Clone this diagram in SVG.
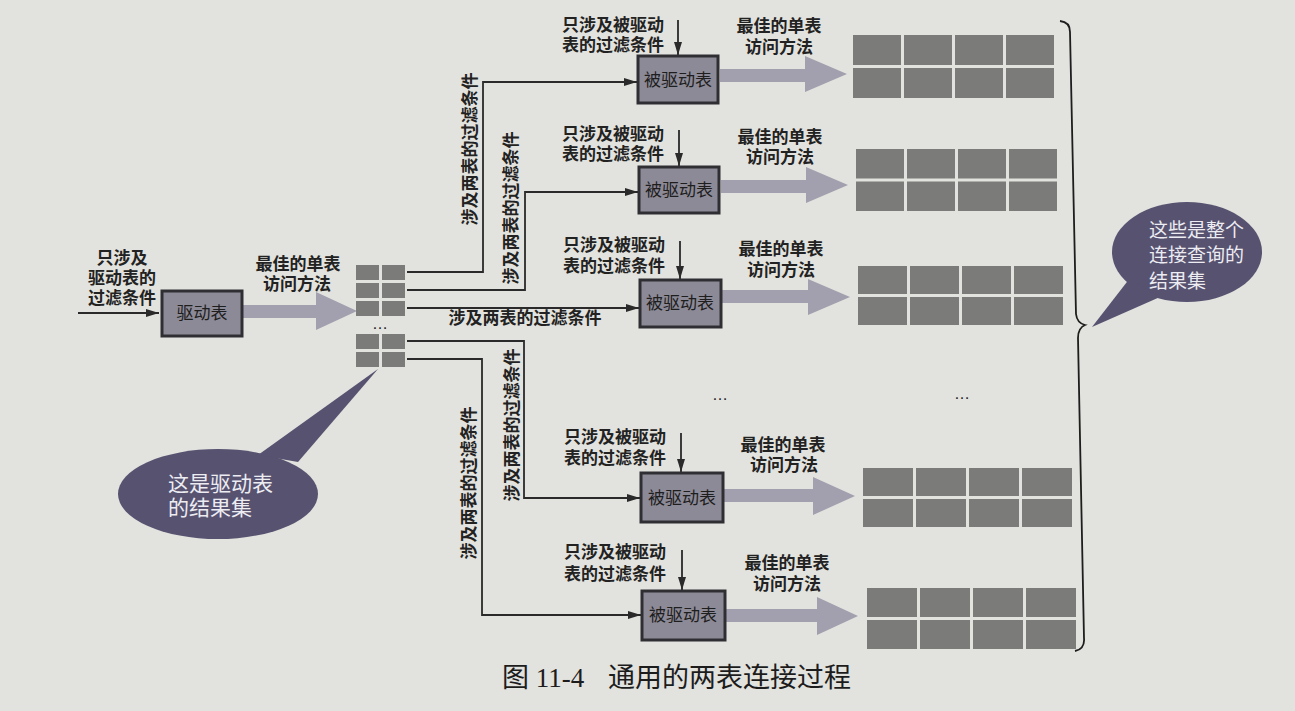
<svg xmlns="http://www.w3.org/2000/svg" width="1295" height="711" viewBox="0 0 1295 711">
<defs>
<style>
.bg{fill:#e2e2de}
.lbl{font-family:"Liberation Sans","Noto Sans CJK SC",sans-serif;font-weight:700;font-size:17px;fill:#222;text-anchor:middle;dominant-baseline:central}
.boxt{font-family:"Liberation Sans","Noto Sans CJK SC",sans-serif;font-weight:400;font-size:17px;fill:#1e1e1e;text-anchor:middle;dominant-baseline:central}
.box{fill:#8d8a97;stroke:#2f2f33;stroke-width:3}
.big{fill:#a29fae}
.cell{fill:#7b7b79}
.conn{fill:none;stroke:#2a2a2a;stroke-width:1.8}
.call{fill:#575270}
.callt{font-family:"Liberation Sans","Noto Sans CJK SC",sans-serif;font-size:19px;fill:#ececf2;dominant-baseline:central}
.dots{font-family:"Liberation Sans",sans-serif;font-size:16px;fill:#222;text-anchor:middle}
.cap{font-family:"Liberation Serif","Noto Sans CJK SC",serif;font-size:27px;fill:#1c1c1c}
</style>
<marker id="ah" markerWidth="13" markerHeight="8" refX="13" refY="4" orient="auto" markerUnits="userSpaceOnUse">
<path d="M0,0 L13,4 L0,8 Z" fill="#2a2a2a"/>
</marker>
</defs>
<rect class="bg" x="0" y="0" width="1295" height="711"/>

<g id="connectors">
<path class="conn" d="M78,313 H159" marker-end="url(#ah)"/>
<path class="conn" d="M407,272 H483 V82 H637" marker-end="url(#ah)"/>
<path class="conn" d="M407,290 H525 V192 H638" marker-end="url(#ah)"/>
<path class="conn" d="M407,308 H639" marker-end="url(#ah)"/>
<path class="conn" d="M407,341 H524 V498 H640" marker-end="url(#ah)"/>
<path class="conn" d="M407,359 H482 V615 H641" marker-end="url(#ah)"/>
<path class="conn" d="M678,20 V55" marker-end="url(#ah)"/>
<path class="conn" d="M679,130 V166" marker-end="url(#ah)"/>
<path class="conn" d="M680,241 V279" marker-end="url(#ah)"/>
<path class="conn" d="M681,433 V472" marker-end="url(#ah)"/>
<path class="conn" d="M682,550 V590" marker-end="url(#ah)"/>
<text class="lbl" x="470" y="149" transform="rotate(-90 470 149)">涉及两表的过滤条件</text>
<text class="lbl" x="511" y="208" transform="rotate(-90 511 208)">涉及两表的过滤条件</text>
<text class="lbl" x="525" y="318">涉及两表的过滤条件</text>
<text class="lbl" x="512" y="425" transform="rotate(-90 512 425)">涉及两表的过滤条件</text>
<text class="lbl" x="469" y="483" transform="rotate(-90 469 483)">涉及两表的过滤条件</text>
<path class="big" d="M243,305 H316 V292 L357,311 L316,330 V318 H243 Z"/>
<path class="big" d="M720,69 H805 V56 L847,74 L805,92 V82 H720 Z"/>
<path class="big" d="M721,180 H806 V167 L848,185 L806,203 V193 H721 Z"/>
<path class="big" d="M722,290 H808 V279 L850,297 L808,315 V303 H722 Z"/>
<path class="big" d="M724,489 H813 V477 L855,496 L813,515 V502 H724 Z"/>
<path class="big" d="M726,609 H817 V597 L858,616 L817,635 V622 H726 Z"/>
</g>

<g id="driver-input">
<text class="lbl"><tspan x="122" y="258">只涉及</tspan><tspan x="122" y="278">驱动表的</tspan><tspan x="122" y="298">过滤条件</tspan></text>
</g>

<g id="driver">
<rect class="box" x="162" y="291" width="80" height="45"/>
<text class="boxt" x="202" y="313">驱动表</text>
<text class="lbl"><tspan x="298" y="264">最佳的单表</tspan><tspan x="297" y="284">访问方法</tspan></text>
</g>

<g id="driver-result">
<rect class="cell" x="356" y="265" width="23" height="15"/>
<rect class="cell" x="382" y="265" width="23" height="15"/>
<rect class="cell" x="356" y="283" width="23" height="15"/>
<rect class="cell" x="382" y="283" width="23" height="15"/>
<rect class="cell" x="356" y="301" width="23" height="15"/>
<rect class="cell" x="382" y="301" width="23" height="15"/>
<text class="dots" x="380" y="329">…</text>
<rect class="cell" x="356" y="334" width="23" height="15"/>
<rect class="cell" x="382" y="334" width="23" height="15"/>
<rect class="cell" x="356" y="352" width="23" height="15"/>
<rect class="cell" x="382" y="352" width="23" height="15"/>
</g>

<g id="driven1">
<text class="lbl"><tspan x="613" y="25">只涉及被驱动</tspan><tspan x="613" y="45">表的过滤条件</tspan></text>
<rect class="box" x="638" y="56" width="80" height="47"/>
<text class="boxt" x="678" y="80">被驱动表</text>
<text class="lbl"><tspan x="779" y="26">最佳的单表</tspan><tspan x="779" y="47">访问方法</tspan></text>
</g>
<g id="driven2">
<text class="lbl"><tspan x="613" y="134">只涉及被驱动</tspan><tspan x="613" y="154">表的过滤条件</tspan></text>
<rect class="box" x="639" y="167" width="80" height="46"/>
<text class="boxt" x="679" y="190">被驱动表</text>
<text class="lbl"><tspan x="780" y="137">最佳的单表</tspan><tspan x="780" y="157">访问方法</tspan></text>
</g>
<g id="driven3">
<text class="lbl"><tspan x="614" y="245">只涉及被驱动</tspan><tspan x="614" y="266">表的过滤条件</tspan></text>
<rect class="box" x="640" y="280" width="81" height="47"/>
<text class="boxt" x="680" y="303">被驱动表</text>
<text class="lbl"><tspan x="781" y="249">最佳的单表</tspan><tspan x="781" y="270">访问方法</tspan></text>
</g>
<text class="dots" x="720" y="400">…</text>
<text class="dots" x="962" y="399">…</text>
<g id="driven4">
<text class="lbl"><tspan x="615" y="437">只涉及被驱动</tspan><tspan x="615" y="458">表的过滤条件</tspan></text>
<rect class="box" x="641" y="473" width="82" height="49"/>
<text class="boxt" x="682" y="498">被驱动表</text>
<text class="lbl"><tspan x="783" y="445">最佳的单表</tspan><tspan x="784" y="465">访问方法</tspan></text>
</g>
<g id="driven5">
<text class="lbl"><tspan x="615" y="552">只涉及被驱动</tspan><tspan x="615" y="574">表的过滤条件</tspan></text>
<rect class="box" x="642" y="591" width="83" height="49"/>
<text class="boxt" x="683" y="615">被驱动表</text>
<text class="lbl"><tspan x="787" y="563">最佳的单表</tspan><tspan x="787" y="584">访问方法</tspan></text>
</g>

<g id="result1">
<rect class="cell" x="853" y="35" width="48" height="30"/>
<rect class="cell" x="904" y="35" width="48" height="30"/>
<rect class="cell" x="955" y="35" width="48" height="30"/>
<rect class="cell" x="1006" y="35" width="48" height="30"/>
<rect class="cell" x="853" y="68" width="48" height="30"/>
<rect class="cell" x="904" y="68" width="48" height="30"/>
<rect class="cell" x="955" y="68" width="48" height="30"/>
<rect class="cell" x="1006" y="68" width="48" height="30"/>
</g>
<g id="result2">
<rect class="cell" x="856" y="149" width="48" height="29.5"/>
<rect class="cell" x="907" y="149" width="48" height="29.5"/>
<rect class="cell" x="958" y="149" width="48" height="29.5"/>
<rect class="cell" x="1009" y="149" width="48" height="29.5"/>
<rect class="cell" x="856" y="181.5" width="48" height="29.5"/>
<rect class="cell" x="907" y="181.5" width="48" height="29.5"/>
<rect class="cell" x="958" y="181.5" width="48" height="29.5"/>
<rect class="cell" x="1009" y="181.5" width="48" height="29.5"/>
</g>
<g id="result3">
<rect class="cell" x="858" y="266" width="49" height="28"/>
<rect class="cell" x="910" y="266" width="49" height="28"/>
<rect class="cell" x="962" y="266" width="49" height="28"/>
<rect class="cell" x="1014" y="266" width="49" height="28"/>
<rect class="cell" x="858" y="297" width="49" height="28"/>
<rect class="cell" x="910" y="297" width="49" height="28"/>
<rect class="cell" x="962" y="297" width="49" height="28"/>
<rect class="cell" x="1014" y="297" width="49" height="28"/>
</g>
<g id="result4">
<rect class="cell" x="863" y="468" width="50" height="28"/>
<rect class="cell" x="916" y="468" width="50" height="28"/>
<rect class="cell" x="969" y="468" width="50" height="28"/>
<rect class="cell" x="1022" y="468" width="50" height="28"/>
<rect class="cell" x="863" y="499" width="50" height="28"/>
<rect class="cell" x="916" y="499" width="50" height="28"/>
<rect class="cell" x="969" y="499" width="50" height="28"/>
<rect class="cell" x="1022" y="499" width="50" height="28"/>
</g>
<g id="result5">
<rect class="cell" x="867" y="588" width="50" height="29"/>
<rect class="cell" x="920" y="588" width="50" height="29"/>
<rect class="cell" x="973" y="588" width="50" height="29"/>
<rect class="cell" x="1026" y="588" width="50" height="29"/>
<rect class="cell" x="867" y="620" width="50" height="29"/>
<rect class="cell" x="920" y="620" width="50" height="29"/>
<rect class="cell" x="973" y="620" width="50" height="29"/>
<rect class="cell" x="1026" y="620" width="50" height="29"/>
</g>

<g id="brace">
<path d="M1060,21 Q1070,22 1070,32 L1076,314 Q1077,323 1085,325 Q1078,328 1078,338 L1084,638 Q1085,649 1075,651" fill="none" stroke="#1e1e1e" stroke-width="1.8"/>
</g>

<g id="callout-right">
<ellipse class="call" cx="1187" cy="252" rx="75" ry="50"/>
<polygon class="call" points="1130,278 1092,327 1160,297"/>
<text class="callt"><tspan x="1149" y="230">这些是整个</tspan><tspan x="1149" y="255">连接查询的</tspan><tspan x="1149" y="281">结果集</tspan></text>
</g>

<g id="callout-left">
<ellipse class="call" cx="218" cy="494" rx="100" ry="45"/>
<polygon class="call" points="258,455 378,369 298,462"/>
<text class="callt" style="font-size:21px"><tspan x="168" y="483">这是驱动表</tspan><tspan x="168" y="507">的结果集</tspan></text>
</g>

<g id="caption">
<text class="cap" x="502" y="687">图 11-4</text>
<text class="cap" x="608" y="687">通用的两表连接过程</text>
</g>
</svg>
